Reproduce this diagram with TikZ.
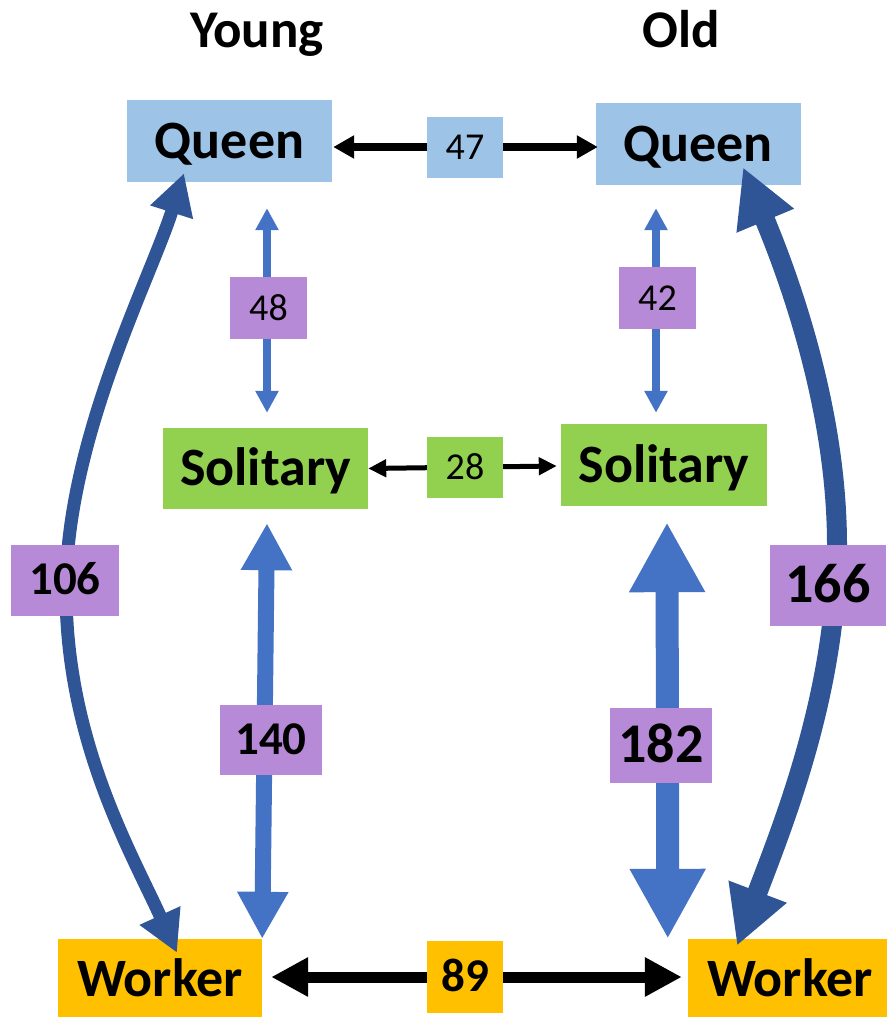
\documentclass[tikz,border=0pt]{standalone}
\usepackage{fontspec}
\setmainfont{Carlito}
\usetikzlibrary{arrows.meta,calc}
\definecolor{qblue}{RGB}{157,195,230}
\definecolor{sgreen}{RGB}{146,208,80}
\definecolor{wgold}{RGB}{255,192,0}
\definecolor{lpurple}{RGB}{182,138,214}
\definecolor{ablue}{RGB}{68,114,196}
\definecolor{dblue}{RGB}{47,85,151}
\begin{document}
\begin{tikzpicture}[x=1pt,y=-1pt,
  box/.style={rectangle, inner sep=0pt, minimum width=205pt, minimum height=82pt,
    text height=34pt, text depth=0pt, font=\fontsize{54}{60}\selectfont\bfseries},
  num/.style={rectangle, fill=lpurple, inner sep=0pt, minimum width=76pt, minimum height=61pt,
    text height=24pt, text depth=0pt, font=\fontsize{38}{44}\selectfont},
  bnum/.style={rectangle, fill=lpurple, inner sep=0pt, minimum width=105pt, minimum height=71pt,
    text height=29.7pt, text depth=0pt, font=\fontsize{47}{52}\selectfont\bfseries},
  Bnum/.style={rectangle, fill=lpurple, inner sep=0pt, minimum width=106pt, minimum height=78pt,
    text height=35.4pt, text depth=0pt, font=\fontsize{56}{62}\selectfont\bfseries},
  title/.style={font=\fontsize{53}{58}\selectfont\bfseries, inner sep=0pt, anchor=base},
  bkA/.style={draw=black, line width=8pt, arrows={Triangle[length=21pt,width=22pt]-Triangle[length=21pt,width=22pt]}},
  bkB/.style={draw=black, line width=5pt, arrows={Triangle[length=18pt,width=17pt]-Triangle[length=18pt,width=17pt]}},
  bkC/.style={draw=black, line width=11pt, arrows={Triangle[length=37pt,width=37pt]-Triangle[length=37pt,width=37pt]}},
  blA/.style={draw=ablue, line width=7.5pt, arrows={Triangle[length=22pt,width=22pt]-Triangle[length=22pt,width=22pt]}},
  blB/.style={draw=ablue, line width=16pt, arrows={Triangle[length=47pt,width=48pt]-Triangle[length=47pt,width=48pt]}},
  blC/.style={draw=ablue, line width=23pt, arrows={Triangle[length=70pt,width=71pt]-Triangle[length=70pt,width=71pt]}},
  dkA/.style={draw=dblue, line width=13pt, arrows={Triangle[length=41pt,width=42pt]-Triangle[length=41pt,width=42pt]}},
  dkB/.style={draw=dblue, line width=20pt, arrows={Triangle[length=58pt,width=58pt]-Triangle[length=58pt,width=58pt]}}
]
\useasboundingbox (0,0) rectangle (886,1017);

% titles
\node[title] (tY) at (257,47) {Young};
\node[title] (tO) at (681,47) {Old};

% main boxes
\node[box, fill=qblue] (YQ) at (229.5,141) {Queen};
\node[box, fill=qblue] (OQ) at (698,144) {Queen};
\node[box, fill=sgreen, minimum height=81pt] (YS) at (265.5,468.5) {Solitary};
\node[box, fill=sgreen, minimum width=206pt] (OS) at (664,465) {Solitary};
\node[box, fill=wgold, minimum width=204pt, minimum height=80pt] (YW) at (160,979) {Worker};
\node[box, fill=wgold, minimum width=204pt, minimum height=80pt] (OW) at (790,979) {Worker};

% horizontal connectors
\draw[bkA] ($(YQ.east)+(1,6)$) -- ($(OQ.west)+(2.5,3)$);
\draw[bkB] (YS.east) -- ($(OS.west)+(-4,1)$);
\draw[bkC] ($(YW.east)+(9,-2)$) -- ($(OW.west)+(-6,-2)$);

% vertical connectors
\draw[blA] ($(YQ.south)+(37.5,26)$) -- ($(YS.north)+(1.5,-15)$);
\draw[blA] ($(OQ.south)+(-42,23)$) -- ($(OS.north)+(-8,-11)$);
\draw[blB] ($(YS.south)+(1.5,14)$) -- (YW.north east);
\draw[blC] ($(OS.south)+(3,16)$) -- ($(OW.north west)+(-20,0)$);

% curved connectors
\draw[dkA] ($(YQ.south)+(-45.5,-9)$) .. controls (150,280) and (66,440) .. (66,590)
  .. controls (66,740) and (130,850) .. ($(YW.north)+(17,14)$);
\draw[dkB] ($(OQ.south)+(45,-18)$) .. controls (790,280) and (837,410) .. (837,545)
  .. controls (837,690) and (785,820) .. ($(OW.north)+(-53,7)$);

% labels
\node[num, fill=qblue] (n47) at (465,147) {47};
\node[num, fill=sgreen] (n28) at (465,467.5) {28};
\node[bnum, fill=wgold, minimum width=76pt, minimum height=72pt] (n89) at (465,977) {89};
\node[num, minimum width=77pt, minimum height=62pt] (n48) at (268.5,308) {48};
\node[num, minimum width=77pt, minimum height=62pt] (n42) at (657.5,298) {42};
\node[bnum, minimum width=108pt] (n106) at (65,580) {106};
\node[Bnum, minimum width=116pt, minimum height=81pt] (n166) at (828,585) {166};
\node[bnum, minimum width=102pt, minimum height=70pt] (n140) at (271,740) {140};
\node[Bnum, minimum width=102pt, minimum height=75pt] (n182) at (661,745) {182};
\end{tikzpicture}
\end{document}
